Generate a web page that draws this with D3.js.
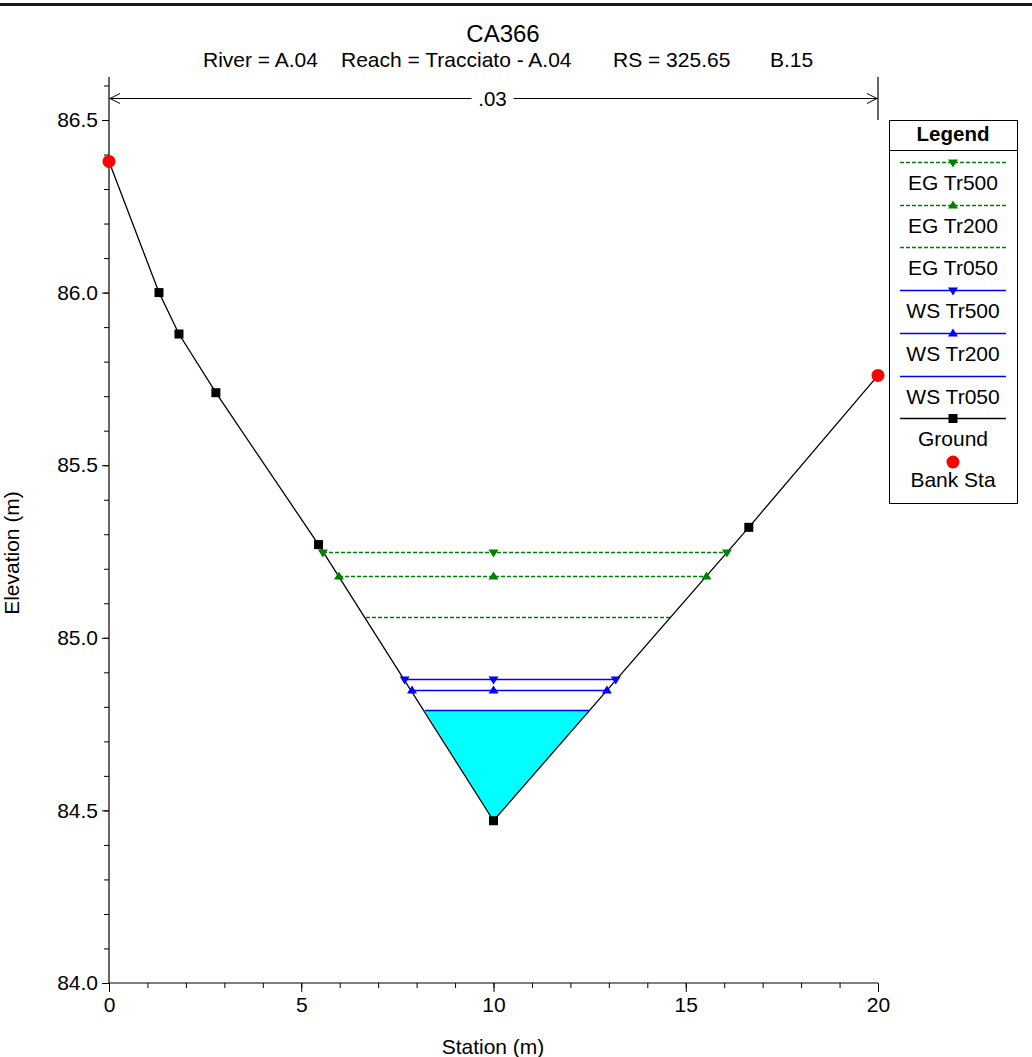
<!DOCTYPE html>
<html>
<head>
<meta charset="utf-8">
<script src="https://cdn.jsdelivr.net/npm/d3@7/dist/d3.min.js"></script>
<style>
  html, body { margin: 0; padding: 0; background: #fff; }
  svg { display: block; font-family: "Liberation Sans", Arial, sans-serif; }
</style>
</head>
<body>
<svg id="chart" width="1032" height="1057"></svg>
<script>
// ---- data ----
const title = "CA366";
const subtitleParts = ["River = A.04", "Reach = Tracciato - A.04", "RS = 325.65", "B.15"];
const manningLabel = ".03";

const groundSta  = [0, 1.30, 1.82, 2.78, 5.45, 10.0, 16.64, 20.0];
const groundElev = [86.38, 86.00, 85.88, 85.71, 85.27, 84.47, 85.32, 85.76];
const bankSta = [0, 20];
const bankElev = [86.38, 85.76];

const profileNames  = ["EG Tr500", "EG Tr200", "EG Tr050", "WS Tr500", "WS Tr200", "WS Tr050"];
const profileElev   = [85.25, 85.18, 85.06, 84.88, 84.85, 84.79];
const profileLeft   = [5.56, 5.98, 6.68, 7.69, 7.88, 8.21];
const profileRight  = [16.07, 15.54, 14.58, 13.18, 12.95, 12.48];
const profileMarker = ["down", "up", "none", "down", "up", "none"];
const profileKind   = ["EG", "EG", "EG", "WS", "WS", "WS"];

const xTicks = [0, 5, 10, 15, 20];
const yTicks = [84.0, 84.5, 85.0, 85.5, 86.0, 86.5];
const xLabel = "Station (m)";
const yLabel = "Elevation (m)";
const legendTitle = "Legend";

// ---- drawing ----
const svg = d3.select("#chart");
const x = d3.scaleLinear().domain([0, 20]).range([109, 878]);
const y = d3.scaleLinear().domain([84, 86.5]).range([983, 120]);
const yTop = 86.6245;
const crisp = v => Math.round(v) + 0.5;

const styles = {
  EG: { color: "#008000", width: 1.4, dash: "4,2" },
  WS: { color: "#0000ff", width: 1.6, dash: null }
};

// top frame line
svg.append("rect").attr("x", 0).attr("y", 3).attr("width", 1032).attr("height", 3).attr("fill", "#1a1a1a");

// title
svg.append("text").attr("x", 503).attr("y", 42).attr("text-anchor", "middle")
  .attr("font-size", 24).text(title);
const subX = [203, 341, 613, 770];
subtitleParts.forEach((s, i) => {
  svg.append("text").attr("x", subX[i]).attr("y", 67).attr("font-size", 21).text(s);
});

// axes
const gx = svg.append("g").attr("transform", "translate(0,983)");
gx.call(d3.axisBottom(x).tickValues(d3.range(0, 21, 1)).tickSize(5).tickFormat(""));
gx.call(g => g.select(".domain").remove());
const gx2 = svg.append("g").attr("transform", "translate(0,983)");
gx2.call(d3.axisBottom(x).tickValues(xTicks).tickSize(9).tickPadding(5).tickFormat(d3.format("d")));
gx2.select(".domain").remove();
gx2.selectAll("text").attr("font-size", 21).attr("font-family", "Liberation Sans, Arial, sans-serif");

const gy = svg.append("g").attr("transform", "translate(109,0)");
gy.call(d3.axisLeft(y).tickValues(d3.range(84.0, 86.61, 0.1).map(v => +v.toFixed(1))).tickSize(5).tickFormat(""));
gy.select(".domain").remove();
const gy2 = svg.append("g").attr("transform", "translate(109,0)");
gy2.call(d3.axisLeft(y).tickValues(yTicks).tickSize(7).tickPadding(4).tickFormat(d3.format(".1f")));
gy2.select(".domain").remove();
gy2.selectAll("text").attr("font-size", 21).attr("font-family", "Liberation Sans, Arial, sans-serif");
svg.selectAll(".tick line").attr("stroke", "#000");

svg.append("line").attr("x1", x(0)).attr("x2", x(0)).attr("y1", y(84)).attr("y2", y(yTop)).attr("stroke", "#000").attr("stroke-width", 1.2);
svg.append("line").attr("x1", x(0)).attr("x2", x(20)).attr("y1", y(84)).attr("y2", y(84)).attr("stroke", "#000").attr("stroke-width", 1.2);

// axis titles
svg.append("text").attr("x", 493).attr("y", 1054).attr("text-anchor", "middle").attr("font-size", 21).text(xLabel);
svg.append("text").attr("transform", "translate(19,553) rotate(-90)").attr("text-anchor", "middle").attr("font-size", 21).text(yLabel);

// Manning's n bracket
const by = 98.5;
svg.append("line").attr("x1", x(20)).attr("x2", x(20)).attr("y1", y(yTop)).attr("y2", y(86.5)).attr("stroke", "#000").attr("stroke-width", 1.2);
svg.append("line").attr("x1", x(0)).attr("x2", x(20)).attr("y1", by).attr("y2", by).attr("stroke", "#000").attr("stroke-width", 1);
svg.append("path").attr("d", `M${x(0)+11},${by-5} L${x(0)+1},${by} L${x(0)+11},${by+5}`).attr("fill", "none").attr("stroke", "#000");
svg.append("path").attr("d", `M${x(20)-11},${by-5} L${x(20)-1},${by} L${x(20)-11},${by+5}`).attr("fill", "none").attr("stroke", "#000");
svg.append("rect").attr("x", x(10) - 22).attr("y", by - 12).attr("width", 42).attr("height", 24).attr("fill", "#fff");
svg.append("text").attr("x", x(10) - 1).attr("y", by + 7).attr("text-anchor", "middle").attr("font-size", 20.5).text(manningLabel);

// water fill (lowest WS profile down to ground)
const wsIdx = profileNames.length - 1;
const wL = profileLeft[wsIdx], wR = profileRight[wsIdx], wE = profileElev[wsIdx];
const fillPts = [[wL, wE]];
groundSta.forEach((s, i) => { if (s > wL && s < wR) fillPts.push([s, groundElev[i]]); });
fillPts.push([wR, wE]);
svg.append("path")
  .attr("d", d3.line().x(d => x(d[0])).y(d => y(d[1]))(fillPts) + "Z")
  .attr("fill", "#00ffff").attr("stroke", "none");

// profile lines
profileNames.forEach((n, i) => {
  const st = styles[profileKind[i]];
  svg.append("line")
    .attr("x1", Math.round(x(profileLeft[i]))).attr("x2", Math.round(x(profileRight[i])))
    .attr("y1", crisp(y(profileElev[i]))).attr("y2", crisp(y(profileElev[i])))
    .attr("stroke", st.color).attr("stroke-width", st.width)
    .attr("stroke-dasharray", st.dash);
});

// ground line
const ground = groundSta.map((s, i) => [s, groundElev[i]]);
svg.append("path").attr("d", d3.line().x(d => x(d[0])).y(d => y(d[1]))(ground))
  .attr("fill", "none").attr("stroke", "#000").attr("stroke-width", 1.3);

function tri(cx, cy, dir, color) {
  const w = 5, h = 8;
  const d = dir === "down"
    ? `M${cx - w},${cy - 3} L${cx + w},${cy - 3} L${cx},${cy + h - 3}Z`
    : `M${cx - w},${cy + 3} L${cx + w},${cy + 3} L${cx},${cy - h + 3}Z`;
  return svg.append("path").attr("d", d).attr("fill", color);
}

// profile markers (ends and channel centre)
profileNames.forEach((n, i) => {
  if (profileMarker[i] === "none") return;
  const st = styles[profileKind[i]];
  [profileLeft[i], 10, profileRight[i]].forEach(s => tri(x(s), crisp(y(profileElev[i])), profileMarker[i], st.color));
});

// ground squares
svg.selectAll(".gsq").data(ground.filter(d => !bankSta.includes(d[0]))).enter().append("rect")
  .attr("x", d => x(d[0]) - 4.5).attr("y", d => y(d[1]) - 4.5).attr("width", 9).attr("height", 9).attr("fill", "#000");

// bank stations
svg.selectAll(".bank").data(bankSta).enter().append("circle")
  .attr("cx", d => x(d)).attr("cy", (d, i) => y(bankElev[i])).attr("r", 6.5).attr("fill", "#ff0000");

// legend
const lg = svg.append("g");
const lx0 = 889.5, lx1 = 1017.5, ly0 = 120.5, ly1 = 503.5;
lg.append("rect").attr("x", lx0).attr("y", ly0).attr("width", lx1 - lx0).attr("height", ly1 - ly0)
  .attr("fill", "#fff").attr("stroke", "#000").attr("stroke-width", 1);
lg.append("line").attr("x1", lx0).attr("x2", lx1).attr("y1", 150.5).attr("y2", 150.5).attr("stroke", "#000");
lg.append("text").attr("x", 953).attr("y", 141).attr("text-anchor", "middle").attr("font-size", 20.5).attr("font-weight", "bold").text(legendTitle);
const legendNames = profileNames.concat(["Ground"]);
const rowH = 42.7;
legendNames.forEach((n, i) => {
  const ly = crisp(162 + i * rowH);
  let color = "#000", width = 1.3, dash = null, mk = "square";
  if (i < profileNames.length) {
    const st = styles[profileKind[i]];
    color = st.color; width = st.width; dash = st.dash; mk = profileMarker[i];
  }
  lg.append("line").attr("x1", 900).attr("x2", 1006).attr("y1", ly).attr("y2", ly)
    .attr("stroke", color).attr("stroke-width", width).attr("stroke-dasharray", dash);
  if (mk === "square") lg.append("rect").attr("x", 953 - 4.5).attr("y", ly - 4.5).attr("width", 9).attr("height", 9).attr("fill", "#000");
  else if (mk !== "none") tri(953, ly, mk, color);
  lg.append("text").attr("x", 953).attr("y", ly + 27).attr("text-anchor", "middle").attr("font-size", 21).text(n);
});
lg.append("circle").attr("cx", 953).attr("cy", 462).attr("r", 6.5).attr("fill", "#ff0000");
lg.append("text").attr("x", 953).attr("y", 487).attr("text-anchor", "middle").attr("font-size", 21).text("Bank Sta");
</script>
</body>
</html>
